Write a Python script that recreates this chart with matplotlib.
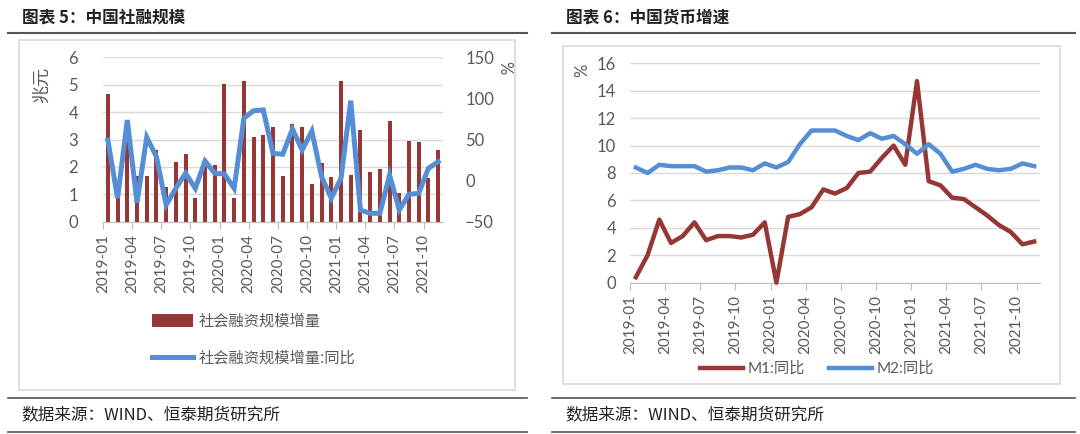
import matplotlib.pyplot as plt
from matplotlib.lines import Line2D
from matplotlib.patches import Rectangle
import numpy as np

plt.rcParams['font.family'] = ['Lato', 'Noto Sans CJK SC', 'DejaVu Sans']

# month labels 2019-01 .. 2021-11
months = [f"{y}-{m:02d}" for y in (2019, 2020, 2021) for m in range(1, 13)][:35]

# chart 5: total social financing (trillion yuan) and yoy (%)
tsf = [4.67, 0.93, 2.93, 1.65, 1.68, 2.62, 1.27, 2.19, 2.48, 0.85, 2.03, 2.07,
       5.03, 0.85, 5.15, 3.08, 3.16, 3.44, 1.68, 3.57, 3.44, 1.38, 2.13, 1.62,
       5.15, 1.70, 3.35, 1.83, 1.92, 3.67, 1.06, 2.96, 2.90, 1.59, 2.62]
tsf_yoy = [49.4, -21.5, 73.7, -26.9, 52.7, 29.1, -29.7, -9.4, 8.9, -9.4, 23.8, 8.9,
           8.0, -9.4, 75.8, 85.0, 85.9, 33.2, 32.0, 62.8, 37.2, 60.3, 4.7, -21.5,
           2.8, 97.2, -35.8, -39.8, -39.8, 6.8, -35.8, -16.7, -15.5, 15.0, 23.0]

# chart 6: M1 / M2 yoy (%)
m1 = [0.4, 2.0, 4.6, 2.9, 3.4, 4.4, 3.1, 3.4, 3.4, 3.3, 3.5, 4.4,
      0.0, 4.8, 5.0, 5.5, 6.8, 6.5, 6.9, 8.0, 8.1, 9.1, 10.0, 8.6,
      14.7, 7.4, 7.1, 6.2, 6.1, 5.5, 4.9, 4.2, 3.7, 2.8, 3.0]
m2 = [8.4, 8.0, 8.6, 8.5, 8.5, 8.5, 8.1, 8.2, 8.4, 8.4, 8.2, 8.7,
      8.4, 8.8, 10.1, 11.1, 11.1, 11.1, 10.7, 10.4, 10.9, 10.5, 10.7, 10.1,
      9.4, 10.1, 9.4, 8.1, 8.3, 8.6, 8.3, 8.2, 8.3, 8.7, 8.5]

W, H = 1080, 434
RED = '#953735'
BLUE = '#558ED5'
GRAY = '#595959'
GRID = '#D9D9D9'
CJK = ['Noto Sans CJK SC', 'DejaVu Sans']

fig = plt.figure(figsize=(W / 100, H / 100), dpi=100)


def fx(x):
    return x / W


def fy(y):
    return 1 - y / H


def add_axes_px(x0, y0, x1, y1):
    return fig.add_axes([fx(x0), fy(y1), (x1 - x0) / W, (y1 - y0) / H])


def hline(x0, x1, y, color='#555555', lw=1.5):
    fig.add_artist(Line2D([fx(x0), fx(x1)], [fy(y), fy(y)], color=color, lw=lw))


def frame(x0, y0, x1, y1):
    fig.add_artist(Rectangle((fx(x0), fy(y1)), (x1 - x0) / W, (y1 - y0) / H,
                             fill=False, edgecolor=GRID, lw=1.2))


def style_axis(ax, ticks_every=3):
    x = np.arange(len(months))
    ax.set_xlim(-0.5, len(months) - 0.5)
    ax.set_xticks(x[::ticks_every] - 0.5)
    ax.set_xticklabels(months[::ticks_every], rotation=90)
    ax.tick_params(axis='x', length=5, color='#BFBFBF', labelsize=11,
                   labelcolor=GRAY, pad=4)
    ax.tick_params(axis='y', length=0, labelsize=12, labelcolor=GRAY)
    for s in ('top', 'right', 'left'):
        ax.spines[s].set_visible(False)
    ax.spines['bottom'].set_color('#BFBFBF')
    ax.grid(axis='y', color=GRID, lw=1)
    ax.set_axisbelow(True)


# ---------- panel titles, rules and source lines ----------
for x0, x1, title in [(8, 527, '图表 5：中国社融规模'), (552, 1075, '图表 6：中国货币增速')]:
    fig.text(fx(x0 + 14), fy(17), title, family=CJK, fontsize=12,
             fontweight='bold', va='center', ha='left', color='#222222')
    hline(x0, x1, 33)
    hline(x0, x1, 398, lw=1.2)
    hline(x0, x1, 432, lw=1.2)
    fig.text(fx(x0 + 13), fy(415), '数据来源：WIND、恒泰期货研究所', family=CJK,
             fontsize=12, va='center', ha='left', color='#222222')

frame(19, 40, 515, 390)
frame(563, 46, 1060, 384)

# ---------- chart 5 ----------
x = np.arange(len(months))
ax1 = add_axes_px(103, 57.3, 443, 221.7)
style_axis(ax1)
ax1.bar(x, tsf, width=0.42, color=RED, label='社会融资规模增量', zorder=2)
ax1.set_ylim(0, 6)
ax1.set_yticks(range(0, 7))
ax1.tick_params(axis='y', pad=18)
ax1.set_ylabel('兆元', family=CJK, fontsize=13, color=GRAY)
ax1.yaxis.set_label_coords(-0.155, 0.83)

ax1b = ax1.twinx()
ax1b.plot(x, tsf_yoy, color=BLUE, lw=3.6, label='社会融资规模增量:同比',
          solid_joinstyle='miter', zorder=3)
ax1b.set_ylim(-50, 150)
ax1b.set_yticks([-50, 0, 50, 100, 150])
ax1b.tick_params(axis='y', length=0, labelsize=12, labelcolor=GRAY, pad=16)
for s in ax1b.spines.values():
    s.set_visible(False)
fig.text(fx(504), fy(68), '%', fontsize=12, color=GRAY, rotation=-90,
         ha='center', va='center')

h1, l1 = ax1.get_legend_handles_labels()
h2, l2 = ax1b.get_legend_handles_labels()
leg = fig.legend(h1 + h2, l1 + l2, loc='center left',
                 bbox_to_anchor=(fx(138), fy(340)), ncol=1, frameon=False,
                 prop={'family': CJK, 'size': 11}, labelcolor=GRAY,
                 handlelength=2.7, handleheight=0.9, labelspacing=1.3,
                 handletextpad=0.4)

# ---------- chart 6 ----------
ax2 = add_axes_px(630, 63.3, 1040, 282.7)
style_axis(ax2)
ax2.plot(x, m1, color=RED, lw=3.2, label='M1:同比', clip_on=False, zorder=3)
ax2.plot(x, m2, color=BLUE, lw=3.2, label='M2:同比', clip_on=False, zorder=3)
ax2.set_ylim(0, 16)
ax2.set_yticks(range(0, 17, 2))
ax2.tick_params(axis='y', pad=10)
fig.text(fx(582), fy(70), '%', fontsize=12, color=GRAY, rotation=90,
         ha='center', va='center')
ax2.legend(loc='center', bbox_to_anchor=(fx(817), fy(369)),
           bbox_transform=fig.transFigure, ncol=2, frameon=False,
           prop={'family': ['Lato', 'Noto Sans CJK SC'], 'size': 11},
           labelcolor=GRAY, handlelength=2.8, handletextpad=0.3,
           columnspacing=1.6)

fig.savefig('out.png', dpi=100)
